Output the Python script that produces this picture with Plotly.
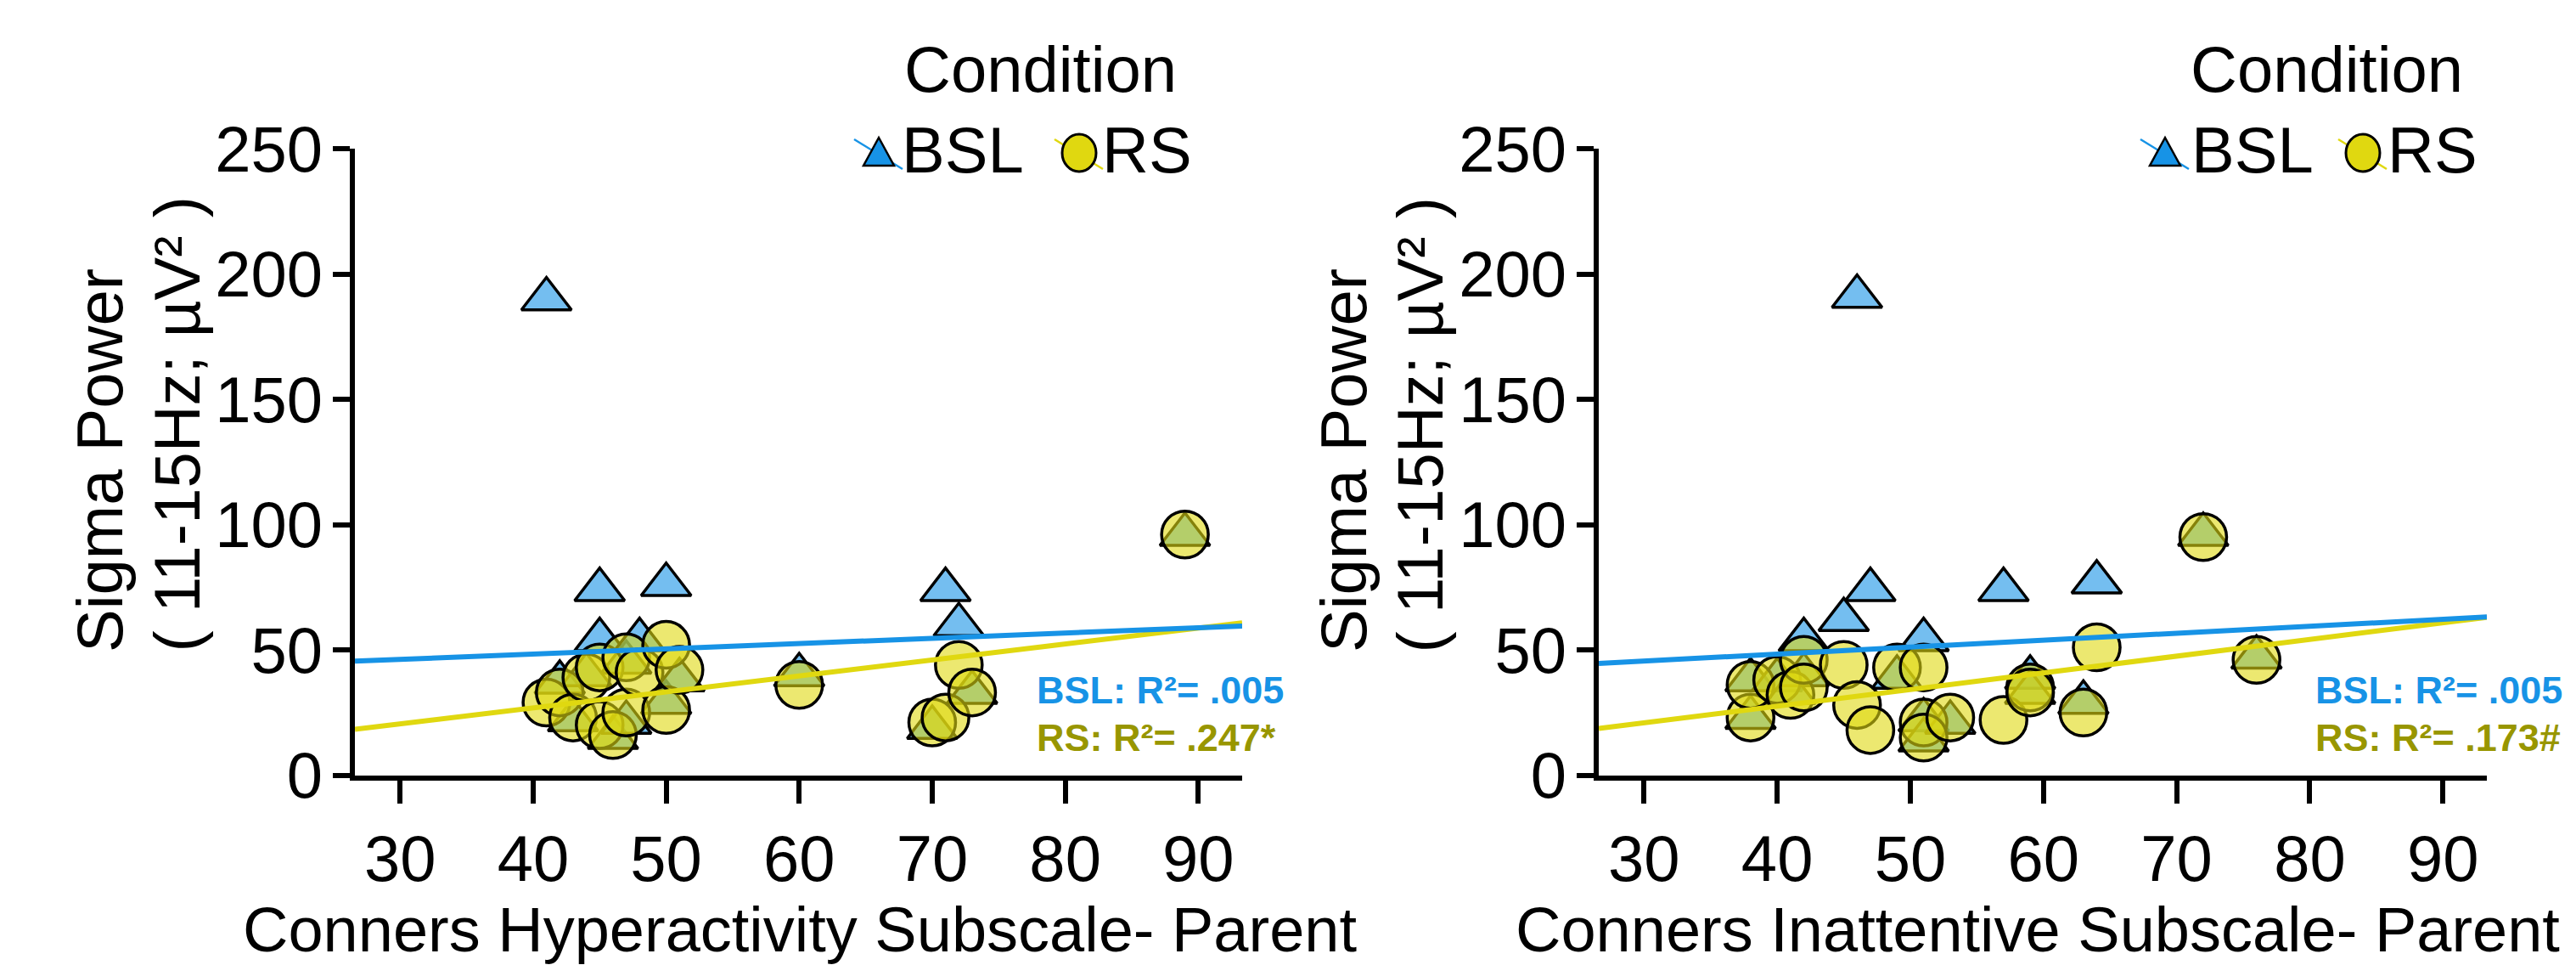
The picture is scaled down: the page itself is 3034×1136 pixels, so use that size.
import plotly.graph_objects as go

# ---------------- data ----------------
HYP_X   = [41, 42, 43, 44, 45, 45, 46, 47, 47, 48, 50, 50, 51, 60, 70, 71, 72, 73, 89]
HYP_BSL = [190, 37, 22, 40, 74, 54, 15, 21, 45, 54, 76, 29, 38, 40, 19, 74, 60, 33, 96]
HYP_RS  = [29, 33, 23, 39, 43, 20, 16, 25, 47, 41, 52, 26, 42, 36, 21, 23, 44, 33, 96]

INA_X   = [38, 38, 40, 41, 42, 42, 45, 46, 47, 49, 51, 51, 51, 53, 57, 59, 59, 63, 64, 72, 76]
INA_BSL = [23, 38, 38, 33, 54, 40, 62, 191, 74, 39, 54, 22, 14, 21, 74, 39, 33, 29, 77, 96, 47]
INA_RS  = [23, 36, 38, 32, 46, 35, 44, 28, 18, 43, 43, 21, 15, 23, 22, 35, 33, 25, 51, 95, 46]

# regression lines (values at the ends of the x range)
FIT_X       = [26.6, 93.3]
HYP_BSL_FIT = [45.5, 59.5]
HYP_RS_FIT  = [18.3, 60.8]
INA_BSL_FIT = [44.6, 63.1]
INA_RS_FIT  = [18.6, 63.0]

X_TICKS = [30, 40, 50, 60, 70, 80, 90]
Y_TICKS = [0, 50, 100, 150, 200, 250]
X_TITLES = ["Conners Hyperactivity Subscale- Parent", "Conners Inattentive Subscale- Parent"]
Y_TITLE_LINES = ["Sigma Power", "( 11-15Hz; µV² )"]
R2_BSL = ["BSL: R²= .005", "BSL: R²= .005"]
R2_RS = ["RS: R²= .247*", "RS: R²= .173#"]
CONDITIONS = ["BSL", "RS"]
LEGEND_TITLE = "Condition"

# ---------------- styling ----------------
W, H = 3034, 1136
BLUE = "#1793E6"
YELLOW = "#E0D810"
OLIVE = "#989600"
TRI_FILL = "rgba(23,147,230,0.6)"
CIR_FILL = "rgba(224,216,16,0.6)"
FONT = "Liberation Sans"
FS = 76


def px(X):
    return X / W


def py(Y):
    return 1 - Y / H


fig = go.Figure()

panels = [
    ("x", "y", HYP_X, HYP_BSL, HYP_RS, HYP_BSL_FIT, HYP_RS_FIT),
    ("x2", "y2", INA_X, INA_BSL, INA_RS, INA_BSL_FIT, INA_RS_FIT),
]
for xa, ya, xs, bsl, rs, bfit, rfit in panels:
    fig.add_trace(go.Scatter(
        x=xs, y=bsl, mode="markers", xaxis=xa, yaxis=ya, name=CONDITIONS[0],
        marker=dict(symbol="triangle-up", size=51, color=TRI_FILL,
                    line=dict(color="black", width=3.5)),
        cliponaxis=False, showlegend=False))
    fig.add_trace(go.Scatter(
        x=xs, y=rs, mode="markers", xaxis=xa, yaxis=ya, name=CONDITIONS[1],
        marker=dict(symbol="circle", size=55, color=CIR_FILL,
                    line=dict(color="black", width=3.5)),
        cliponaxis=False, showlegend=False))
    fig.add_trace(go.Scatter(
        x=FIT_X, y=rfit, mode="lines", xaxis=xa, yaxis=ya,
        line=dict(color=YELLOW, width=6), showlegend=False, hoverinfo="skip"))
    fig.add_trace(go.Scatter(
        x=FIT_X, y=bfit, mode="lines", xaxis=xa, yaxis=ya,
        line=dict(color=BLUE, width=6), showlegend=False, hoverinfo="skip"))

ax_common = dict(showline=True, linecolor="black", linewidth=5.5, ticks="outside",
                 tickwidth=5.5, tickcolor="black", showgrid=False, zeroline=False,
                 automargin=False,
                 tickfont=dict(family=FONT, size=FS, color="black"), fixedrange=True)
ydom = [py(912.5), py(175)]
fig.update_layout(
    xaxis=dict(domain=[px(418), px(1463)], range=FIT_X, tickvals=X_TICKS, ticklen=28,
               anchor="y", **ax_common),
    yaxis=dict(domain=ydom, range=[0, 250], tickvals=Y_TICKS, ticklen=20,
               ticklabelstandoff=-3, anchor="x", **ax_common),
    xaxis2=dict(domain=[px(1883), px(2929)], range=FIT_X, tickvals=X_TICKS, ticklen=28,
                anchor="y2", **ax_common),
    yaxis2=dict(domain=ydom, range=[0, 250], tickvals=Y_TICKS, ticklen=20,
                ticklabelstandoff=-3, anchor="x2", **ax_common),
)

annotations = []
shapes = []

panel_px = [
    dict(yt=[117, 208], xt=942, r2=1219, cond=1225, tri=1035, bsl=1060, cir=1271, rs=1296),
    dict(yt=[1582, 1672], xt=2400, r2=2725, cond=2740, tri=2550, bsl=2579, cir=2783, rs=2810),
]
for i, p in enumerate(panel_px):
    # y axis title (two rotated lines, bottom aligned)
    for line_txt, cx in zip(Y_TITLE_LINES, p["yt"]):
        annotations.append(dict(
            text=line_txt, x=px(cx), y=py(770), xref="paper", yref="paper",
            xanchor="center", yanchor="bottom", textangle=-90, showarrow=False,
            font=dict(family=FONT, size=FS, color="black")))
    # x axis title
    annotations.append(dict(
        text=X_TITLES[i], x=px(p["xt"]), y=py(1094), xref="paper", yref="paper",
        xanchor="center", yanchor="middle", showarrow=False,
        font=dict(family=FONT, size=74, color="black")))
    # R^2 labels
    annotations.append(dict(
        text="<b>" + R2_BSL[i] + "</b>", x=px(p["r2"]), y=py(812), xref="paper", yref="paper",
        xanchor="left", yanchor="middle", showarrow=False,
        font=dict(family=FONT, size=45, color=BLUE)))
    annotations.append(dict(
        text="<b>" + R2_RS[i] + "</b>", x=px(p["r2"]), y=py(868), xref="paper", yref="paper",
        xanchor="left", yanchor="middle", showarrow=False,
        font=dict(family=FONT, size=45, color=OLIVE)))
    # legend
    annotations.append(dict(
        text=LEGEND_TITLE, x=px(p["cond"]), y=py(81), xref="paper", yref="paper",
        xanchor="center", yanchor="middle", showarrow=False,
        font=dict(family=FONT, size=FS, color="black")))
    annotations.append(dict(
        text=CONDITIONS[0], x=px(p["bsl"]), y=py(176), xref="paper", yref="paper",
        xanchor="left", yanchor="middle", showarrow=False,
        font=dict(family=FONT, size=FS, color="black")))
    annotations.append(dict(
        text=CONDITIONS[1], x=px(p["rs"]), y=py(176), xref="paper", yref="paper",
        xanchor="left", yanchor="middle", showarrow=False,
        font=dict(family=FONT, size=FS, color="black")))
    cy = 180
    for cx, col in ((p["tri"], BLUE), (p["cir"], YELLOW)):
        shapes.append(dict(type="line", xref="paper", yref="paper",
                           x0=px(cx - 29), y0=py(cy - 16), x1=px(cx + 28), y1=py(cy + 19),
                           line=dict(color=col, width=2.5)))
    tx = p["tri"]
    shapes.append(dict(
        type="path", xref="paper", yref="paper",
        path=f"M {px(tx - 18)},{py(cy + 15)} L {px(tx + 18)},{py(cy + 15)} L {px(tx)},{py(cy - 18)} Z",
        fillcolor=BLUE, line=dict(color="black", width=2.5)))
    ccx = p["cir"]
    shapes.append(dict(
        type="circle", xref="paper", yref="paper",
        x0=px(ccx - 20), x1=px(ccx + 20), y0=py(cy + 22), y1=py(cy - 22),
        fillcolor=YELLOW, line=dict(color="black", width=3)))

fig.update_layout(
    width=W, height=H, autosize=False,
    margin=dict(l=0, r=0, t=0, b=0, pad=0, autoexpand=False),
    paper_bgcolor="white", plot_bgcolor="white",
    showlegend=False,
    font=dict(family=FONT, color="black"),
    annotations=annotations, shapes=shapes,
)

fig.write_html("out.html",
               config={"displayModeBar": False},
               post_script="document.body.style.margin='0';document.body.style.overflow='hidden';")
